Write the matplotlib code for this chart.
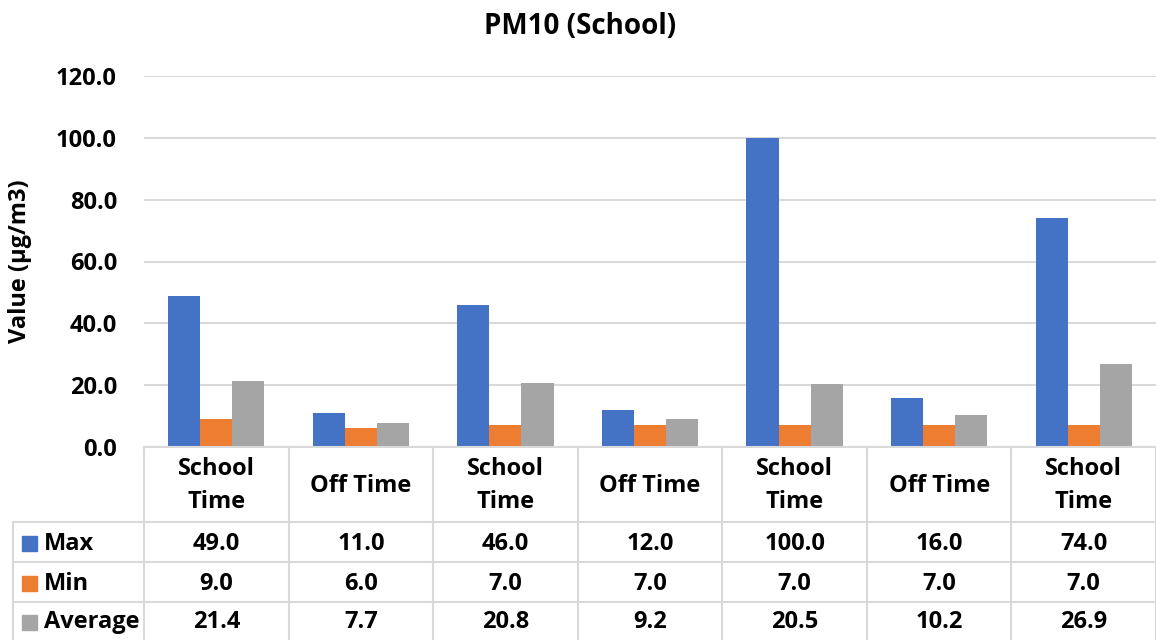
import numpy as np
import matplotlib
matplotlib.use("Agg")
import matplotlib.pyplot as plt
from matplotlib.lines import Line2D
from matplotlib.patches import Rectangle

plt.rcParams['font.family'] = ['Open Sans', 'DejaVu Sans']
plt.rcParams['font.weight'] = 'bold'

categories = ["School\nTime", "Off Time", "School\nTime", "Off Time",
              "School\nTime", "Off Time", "School\nTime"]
max_vals = [49.0, 11.0, 46.0, 12.0, 100.0, 16.0, 74.0]
min_vals = [9.0, 6.0, 7.0, 7.0, 7.0, 7.0, 7.0]
avg_vals = [21.4, 7.7, 20.8, 9.2, 20.5, 10.2, 26.9]
series_names = ["Max", "Min", "Average"]
colors = ["#4472C4", "#ED7D31", "#A5A5A5"]

FS = 17
W, H = 1156, 640
fig = plt.figure(figsize=(W / 100, H / 100), dpi=100)

# plot area in pixel terms
x0, x1 = 144, 1156
ytop, ybot = 76, 447
ax = fig.add_axes([x0 / W, 1 - ybot / H, (x1 - x0) / W, (ybot - ytop) / H])

n = len(categories)
series = [max_vals, min_vals, avg_vals]
bw = 1 / 4.5
xs = np.arange(n)
for i, (vals, c) in enumerate(zip(series, colors)):
    ax.bar(xs + (i - 1) * bw, vals, width=bw, color=c, zorder=3)

ax.set_xlim(-0.5, n - 0.5)
ax.set_ylim(0, 120)
ax.set_yticks(np.arange(0, 121, 20))
ax.set_yticklabels([f"{v:.1f}" for v in np.arange(0, 121, 20)], fontsize=FS, fontweight='bold')
ax.tick_params(axis='y', length=0, pad=19.5)
ax.set_xticks([])
ax.grid(axis='y', color='#d9d9d9', linewidth=1.5, zorder=0)
for s in ax.spines.values():
    s.set_visible(False)

fig.text(580 / W, 1 - 27 / H, "PM10 (School)", ha='center', va='center',
         fontsize=20, fontweight='bold')
fig.text(20 / W, 1 - 261 / H, "Value (µg/m3)", ha='center', va='center',
         rotation=90, fontsize=17, fontweight='bold')

# data table below the plot
line_c = '#d9d9d9'
lw = 1.5
row_edges = [447, 522, 562, 602, 640]
col_edges = [x0 + k * (x1 - x0) / n for k in range(n + 1)]
left = 13


def fx(px):
    return px / W


def fy(py):
    return 1 - py / H


def hline(xa, xb, y):
    fig.add_artist(Line2D([fx(xa), fx(xb)], [fy(y), fy(y)], color=line_c, lw=lw))


def vline(x, ya, yb):
    fig.add_artist(Line2D([fx(x), fx(x)], [fy(ya), fy(yb)], color=line_c, lw=lw))


hline(x0, x1, row_edges[0])
for y in row_edges[1:4]:
    hline(left, x1, y)
vline(left, row_edges[1], H)
for x in col_edges:
    vline(x, row_edges[0], H)

for j, cat in enumerate(categories):
    cx = (col_edges[j] + col_edges[j + 1]) / 2
    fig.text(fx(cx), fy((row_edges[0] + row_edges[1]) / 2 + 1), cat, ha='center', va='center',
             fontsize=FS, fontweight='bold', linespacing=1.45)

for r, (name, vals, c) in enumerate(zip(series_names, series, colors)):
    cy = (row_edges[r + 1] + row_edges[r + 2]) / 2 + 1.5
    fig.add_artist(Rectangle((fx(22), fy(cy + 7.5)), 15 / W, 15 / H, color=c,
                             transform=fig.transFigure))
    fig.text(fx(44), fy(cy), name, ha='left', va='center', fontsize=FS, fontweight='bold')
    for j, v in enumerate(vals):
        cx = (col_edges[j] + col_edges[j + 1]) / 2
        fig.text(fx(cx), fy(cy), f"{v:.1f}", ha='center', va='center',
                 fontsize=FS, fontweight='bold')

fig.savefig("out.png", dpi=100)
